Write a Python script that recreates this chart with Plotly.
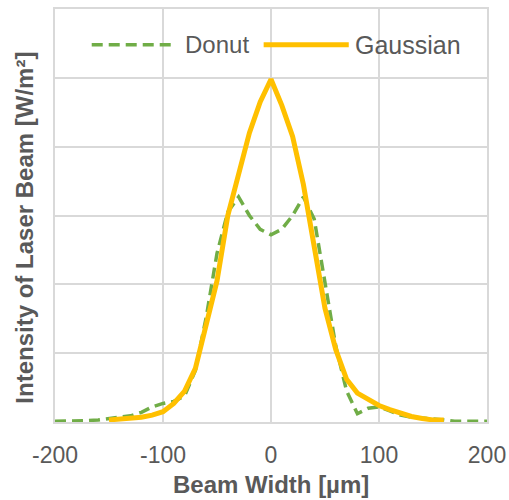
import plotly.graph_objects as go

# Beam profiles sampled every 10 µm
donut_x = list(range(-200, 201, 10))
donut_y = [0.01, 0.01, 0.02, 0.02, 0.03, 0.05, 0.07, 0.09, 0.14, 0.22,
           0.27, 0.30, 0.38, 0.75, 1.52, 2.45, 3.05, 3.27, 3.00, 2.80,
           2.72, 2.80, 3.00, 3.27, 2.95, 2.00, 1.10, 0.45, 0.12, 0.20,
           0.22, 0.16, 0.10, 0.07, 0.06, 0.05, 0.03, 0.01, 0.01, 0.01,
           0.01]

gauss_x = list(range(-150, 161, 10))
gauss_y = [0.03, 0.04, 0.05, 0.07, 0.10, 0.15, 0.27, 0.45, 0.78, 1.38,
           2.05, 3.00, 3.60, 4.20, 4.65, 4.98, 4.60, 4.15, 3.45, 2.55,
           1.65, 1.05, 0.62, 0.42, 0.32, 0.24, 0.18, 0.13, 0.08, 0.05,
           0.03, 0.03]

x_ticks = [-200, -100, 0, 100, 200]

GREEN = "#70AD47"
GOLD = "#FFC000"
GRID = "#D9D9D9"
TEXT = "#595959"
FONT = "Liberation Sans, Arial, sans-serif"
DASH = "11px,6px"

fig = go.Figure()
fig.add_trace(go.Scatter(x=donut_x, y=donut_y, mode="lines", name="Donut",
                         line=dict(color=GREEN, width=3.5, dash=DASH)))
fig.add_trace(go.Scatter(x=gauss_x, y=gauss_y, mode="lines", name="Gaussian",
                         line=dict(color=GOLD, width=5)))

# legend panel drawn inside the plot area
legend_y = 0.9135
shapes = [
    dict(type="rect", xref="paper", yref="paper", x0=0.07, x1=0.97,
         y0=0.855, y1=0.97, fillcolor="white", line=dict(width=0),
         layer="between"),
    dict(type="line", xref="paper", yref="paper", x0=0.085, x1=0.278,
         y0=legend_y, y1=legend_y, line=dict(color=GREEN, width=3.5, dash=DASH)),
    dict(type="line", xref="paper", yref="paper", x0=0.483, x1=0.68,
         y0=legend_y, y1=legend_y, line=dict(color=GOLD, width=5)),
]
annotations = [
    dict(text="Donut", xref="paper", yref="paper", x=0.296, y=legend_y,
         xanchor="left", yanchor="middle", showarrow=False,
         font=dict(size=24, color=TEXT, family=FONT)),
    dict(text="Gaussian", xref="paper", yref="paper", x=0.69, y=legend_y,
         xanchor="left", yanchor="middle", showarrow=False,
         font=dict(size=25, color=TEXT, family=FONT)),
    dict(text="<b>Beam Width [µm]</b>", xref="paper", yref="paper",
         x=0.5, y=-0.151, xanchor="center", yanchor="middle", showarrow=False,
         font=dict(size=24, color=TEXT, family=FONT)),
    dict(text="<b>Intensity of Laser Beam [W/m²]</b>", xref="paper", yref="paper",
         x=-0.07, y=0.47, xanchor="center", yanchor="middle", showarrow=False,
         textangle=-90, font=dict(size=24, color=TEXT, family=FONT)),
]

fig.update_layout(
    width=509, height=500,
    margin=dict(l=55, r=22, t=9, b=78, autoexpand=False),
    paper_bgcolor="white", plot_bgcolor="white",
    showlegend=False,
    shapes=shapes, annotations=annotations,
    font=dict(family=FONT, color=TEXT),
)
fig.update_xaxes(range=[-200, 200], tickvals=x_ticks,
                 ticktext=[str(v) for v in x_ticks], automargin=False,
                 showgrid=True, gridcolor=GRID, gridwidth=1.5,
                 showline=True, linecolor=GRID, linewidth=1.5, mirror=True,
                 zeroline=False, ticks="", ticklabelstandoff=12,
                 tickfont=dict(size=23, color=TEXT, family=FONT))
fig.update_yaxes(range=[0, 6], dtick=1, showticklabels=False, automargin=False,
                 showgrid=True, gridcolor=GRID, gridwidth=1.5,
                 showline=True, linecolor=GRID, linewidth=1.5, mirror=True,
                 zeroline=False, ticks="")

fig.write_html("out.html")
